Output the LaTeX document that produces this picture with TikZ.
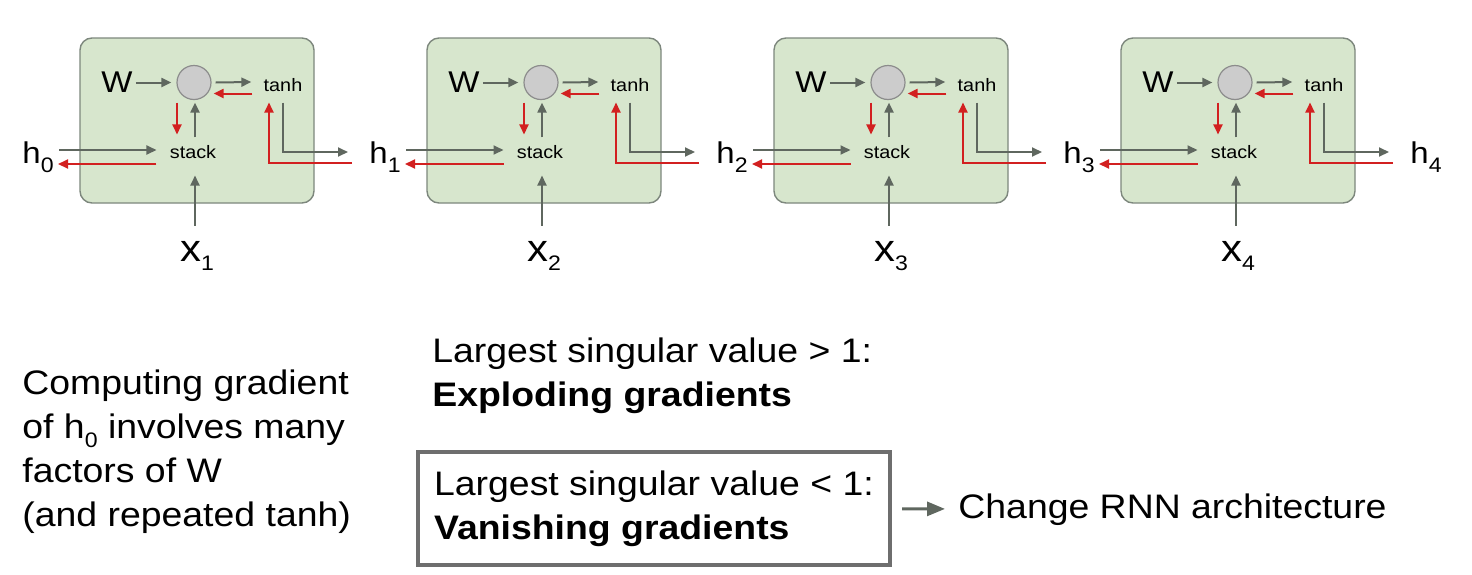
\documentclass[tikz,border=0pt]{standalone}
\usepackage{fontspec}
\setmainfont{Liberation Sans}[FakeStretch=1.1]
\usetikzlibrary{arrows.meta,calc}

\definecolor{cellgreen}{RGB}{215,230,205}
\definecolor{cellline}{RGB}{125,135,125}
\definecolor{flowgray}{RGB}{95,103,95}
\definecolor{backred}{RGB}{210,32,32}
\definecolor{boxgray}{RGB}{110,110,110}

\newcommand{\lowidx}[1]{\raisebox{-4.5pt}{\fontsize{10.5}{12}\selectfont #1}}

\tikzset{
  cell/.style={draw=cellline, fill=cellgreen, rounded corners=6pt, line width=0.7pt,
    minimum width=117pt, minimum height=82.5pt},
  mult/.style={circle, draw=black!45, fill=black!20, minimum size=17pt, inner sep=0pt, line width=0.6pt},
  small/.style={font=\fontsize{9}{10}\selectfont, inner sep=0pt},
  label/.style={inner sep=0pt, font=\fontsize{15}{18}\selectfont},
  big/.style={inner sep=0pt, align=left, font=\fontsize{17}{22}\selectfont},
  fwd/.style={draw=flowgray, line width=1pt, -{Triangle[length=5pt,width=4.5pt]}},
  bwd/.style={draw=backred, line width=1pt, -{Triangle[length=5pt,width=4.5pt]}},
  vbox/.style={big, draw=boxgray, line width=2pt, minimum width=236pt, minimum height=56.5pt},
}

\begin{document}
\begin{tikzpicture}[x=0.5pt, y=-0.5pt]
  \useasboundingbox (0,0) rectangle (1472,574);

  % first hidden state
  \node[label, anchor=base west] (h0) at (22,163) {h\lowidx{0}};

  % cells, one per time step
  \foreach \i in {1,...,4} {
    \pgfmathtruncatemacro{\j}{\i-1}
    \pgfmathsetmacro{\dx}{347*(\i-1)}
    \begin{scope}[shift={(\dx,0)}]
      \node[cell] (cell\i) at (197,120.5) {};
      \node[mult] (c\i) at (194,82.5) {};
      \node[label] (W\i) at (117,82.5) {W};
      \node[small] (t\i) at (283,85) {tanh};
      \node[small] (s\i) at (193,152) {stack};
      \node[anchor=base, inner sep=0pt, font=\fontsize{19}{23}\selectfont] (x\i) at (197,261) {x\lowidx{\i}};
      \node[label, anchor=base west] (h\i) at (369,163) {h\lowidx{\i}};

      % forward (gray) and backward (red) flow
      \draw[fwd, shorten <=1.5pt, shorten >=2.5pt] (W\i) -- (c\i);
      \draw[fwd] ([xshift=2pt]c\i.east) -- ([xshift=-6pt,yshift=1.5pt]t\i.west);
      \draw[bwd] ([xshift=-5.5pt,yshift=-4.25pt]t\i.west) -- ([xshift=1pt,yshift=-5.5pt]c\i.east);
      \draw[bwd] ([xshift=-8.5pt,yshift=-1.25pt]c\i.south) -- ([xshift=-8pt,yshift=5.25pt]s\i.north);
      \draw[fwd] ([xshift=1pt,yshift=3.75pt]s\i.north) -- ([xshift=0.5pt,yshift=-1.25pt]c\i.south);
      \draw[fwd] ($(h\j.east |- s\i.west)+(2.5pt,1pt)$) -- ([xshift=-6.5pt,yshift=1pt]s\i.west);
      \draw[bwd] ([xshift=-6.5pt,yshift=-6pt]s\i.west) -- ($(h\j.east |- s\i.west)+(2pt,-6pt)$);
      \draw[fwd] ($(s\i.south |- x\i.north)+(1pt,7.5pt)$) -- ([xshift=1pt,yshift=-8.25pt]s\i.south);
      \draw[fwd] ([yshift=-5.25pt]t\i.south) |- ($(h\i.west |- s\i.west)+(-10.5pt,0pt)$);
      \draw[bwd] ($(h\i.west |- s\i.west)+(-8.5pt,-5.5pt)$) -| ([xshift=-7pt,yshift=-5.25pt]t\i.south);
    \end{scope}
  }

  % text below
  \node[big, anchor=north west] (grad) at (22,369) {Computing gradient\\of h\lowidx{0} involves many\\factors of W\\(and repeated tanh)};
  \node[big, anchor=north west] (explode) at (432,337) {Largest singular value > 1:\\\textbf{Exploding gradients}};
  \node[vbox] (vanish) at (654,508.5) {Largest singular value < 1:\\\textbf{Vanishing gradients}};
  \node[big, anchor=base west] (change) at (958,518) {Change RNN architecture};

  \draw[draw=flowgray, line width=1.5pt, -{Triangle[length=9pt,width=7pt]}, shorten <=5pt, shorten >=6.5pt] (vanish) -- (change);
\end{tikzpicture}
\end{document}
